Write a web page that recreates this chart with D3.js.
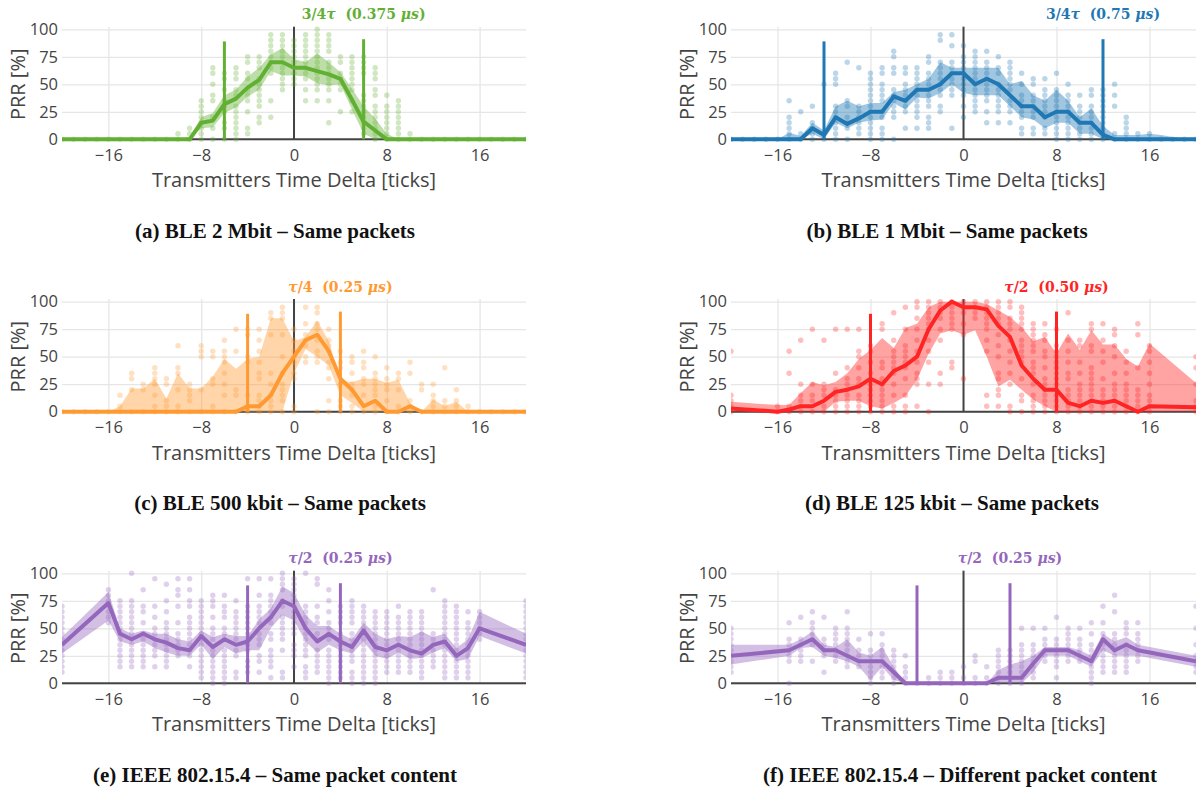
<!DOCTYPE html>
<html lang="en">
<head>
<meta charset="UTF-8">
<title>PRR vs transmitters time delta</title>
<script src="https://d3js.org/d3.v7.min.js"></script>
<style>
  body { margin: 0; background: #fff; }
  svg { display: block; }
  .tick text { font-family: "Open Sans", sans-serif; font-size: 16.5px; fill: #444; }
  .axis-title { font-family: "Open Sans", sans-serif; font-size: 20px; fill: #444; }
  .caption { font-family: "Liberation Serif", serif; font-weight: bold; font-size: 21px; fill: #111; }
  .note { font-family: "DejaVu Serif", serif; font-weight: bold; font-size: 14px; }
</style>
</head>
<body>
<script>
// ---- data ----
var xTicks = [-16, -8, 0, 8, 16];
var yTicks = [0, 25, 50, 75, 100];

var xsFull = [-20,-19,-18,-17,-16,-15,-14,-13,-12,-11,-10,-9,-8,-7,-6,-5,-4,-3,-2,-1,0,1,2,3,4,5,6,7,8,9,10,11,12,13,14,15,16,17,18,19,20];
var xsGap16 = [-20,-16,-15,-14,-13,-12,-11,-10,-9,-8,-7,-6,-5,-4,-3,-2,-1,0,1,2,3,4,5,6,7,8,9,10,11,12,13,14,15,16,20];
var xsGap15 = [-20,-15,-14,-13,-12,-11,-10,-9,-8,-7,-6,-5,-4,-3,-2,-1,0,1,2,3,4,5,6,7,8,9,10,11,12,13,14,15,20];

// (a) BLE 2 Mbit
var meanA = [0,0,0,0,0,0,0,0,0,0,0,0,15,17,32,37,47,54,70,70,65,65,62,59,55,36,16,8,0,0,0,0,0,0,0,0,0,0,0,0,0];
var hiA   = [0,0,0,0,0,0,0,0,0,0,0,2,20,24,40,45,57,65,77,83,73,70,78,70,61,46,30,19,5,0,0,0,0,0,0,0,0,0,0,0,0];
var loA   = [0,0,0,0,0,0,0,0,0,0,0,0,10,11,24,29,39,45,62,58,58,57,51,49,50,27,5,0,0,0,0,0,0,0,0,0,0,0,0,0,0];
var dotsA = [[-20,[0]],[-19,[0]],[-18,[0]],[-17,[0]],[-16,[0]],[-15,[0]],[-14,[0]],[-13,[0]],[-12,[0]],[-11,[0]],[-10,[0,5]],
  [-9,[0,5,10]],[-8,[0,5,10,15,20,25,30,35]],[-7,[0,10,20,35,40,50,60,65]],[-6,[0,10,15,25,30,35,45,55,60]],
  [-5,[0,5,10,15,20,25,30,40,45,55,60,65]],[-4,[5,10,25,35,40,45,55,60,70,75]],[-3,[15,20,30,35,40,45,50,55,65,70,75]],
  [-2,[20,35,60,65,70,75,80,85,90,95]],[-1,[45,50,55,60,65,70,75,80,85,90,95]],[0,[50,55,60,65,70,75,80,85,90]],
  [1,[35,45,55,60,65,70,75,80,85,90,95]],[2,[35,45,50,55,60,65,70,75,80,85,90,95,100]],[3,[15,35,45,50,55,60,65,70,80,85,90,95]],
  [4,[25,45,50,55,60,70,75]],[5,[25,35,45,50,55,60,65,70,75]],[6,[5,10,15,20,25,30,35,40,60,65,70,75]],
  [7,[0,5,10,15,20,25,30,40,45,55,60,65]],[8,[0,5,10,15,20,25,30,40]],[9,[0,5,10,15,20,25,30,35]],[10,[0,5]],
  [11,[0]],[12,[0]],[13,[0]],[14,[0]],[15,[0]],[16,[0]],[17,[0]],[18,[0]],[19,[0]],[20,[0]]];

// (b) BLE 1 Mbit
var meanB = [0,0,0,0,0,0,0,10,4,20,14,19,25,25,39,35,45,45,50,60,60,50,55,50,40,30,30,20,25,25,15,15,4,0,0,0,0,0,0,0,0];
var hiB   = [0,0,0,0,0,6,3,15,8,30,35,30,33,33,43,45,50,55,70,65,65,65,65,65,50,53,40,35,45,35,20,28,12,4,4,4,5,4,2,1,0];
var loB   = [0,0,0,0,0,0,0,5,0,15,10,15,17,18,33,27,38,37,42,50,42,40,40,40,30,20,18,10,15,15,5,5,0,0,0,0,0,0,0,0,0];
var dotsB = [[-20,[0]],[-19,[0]],[-18,[0]],[-17,[0]],[-16,[0]],[-15,[0,5,10,15,20,35]],[-14,[0,5,25]],[-13,[0,5,10,15,30]],
  [-12,[0,5,50]],[-11,[0,5,10,15,20,25,30,50,55,60]],[-10,[0,10,15,20,30,35,70]],[-9,[5,10,15,20,25,30,65]],
  [-8,[0,5,10,15,20,25,30,35,40,45,50,55,60]],[-7,[0,5,10,20,25,35,40,45,50,60,65]],[-6,[0,20,25,30,35,40,45,60,65,75,80]],
  [-5,[10,25,30,35,40,45,50,60,65]],[-4,[10,20,25,30,35,40,45,50,55,60,65]],[-3,[10,15,20,30,35,40,45,50,55,60,70,75]],
  [-2,[25,30,40,45,50,55,60,65,70,90,95]],[-1,[10,40,45,50,55,60,65,70,85,95]],[0,[20,30,40,45,50,55,60,65,70,75,85]],
  [1,[25,30,35,40,45,50,55,60,65,70,75,80]],[2,[15,25,35,40,45,50,55,60,65,70,80]],[3,[15,25,30,35,40,45,50,60,65,75]],
  [4,[15,25,30,35,45,50,55,60,65,70]],[5,[5,10,20,25,30,35,40,50,60]],[6,[5,10,20,25,30,35,40,50,55]],
  [7,[5,10,20,25,30,35,40,45,55]],[8,[0,5,10,15,20,25,30,35,40,45,60]],[9,[0,5,10,15,20,25,30,35,40,50]],
  [10,[0,5,10,15,20,25,30,40]],[11,[0,5,10,15,20,25,30,40,45]],[12,[0,5,10,15,20,25,30,35,40,45]],[13,[0,5,30,40,50]],
  [14,[0,5,10,15,20]],[15,[0,5]],[16,[0,5]],[17,[0]],[18,[0]],[19,[0]],[20,[0]]];

// (c) BLE 500 kbit
var meanC = [0,0,0,0,0,0,0,0,0,0,0,0,0,0,0,0,5,5,15,35,50,65,70,55,30,20,5,10,0,0,5,0,0,0,0,0,0,0,0,0,0];
var hiC   = [0,0,0,0,0,5,21,21,30,12,35,21,21,32,48,39,48,50,85,85,64,68,83,64,28,27,30,30,26,29,8,0,11,5,9,0,0,0,0,0,0];
var loC   = [0,0,0,0,0,0,0,0,0,0,0,0,0,0,0,0,0,0,0,0,35,57,50,42,15,8,0,0,0,0,0,0,0,0,0,0,0,0,0,0,0];
var dotsC = [[-20,[0]],[-19,[0]],[-18,[0]],[-17,[0]],[-16,[0]],[-15,[0,5,15]],[-14,[0,20,30,35]],[-13,[0,20,25]],
  [-12,[0,5,15,25,30,35,40]],[-11,[0,5,10,25,30]],[-10,[0,5,20,35,40,60]],[-9,[0,10,15,20,25]],[-8,[0,20,50,55,60]],
  [-7,[0,5,25,30,50,55]],[-6,[0,15,25,35,45,50,55,65]],[-5,[0,15,20,55,75]],[-4,[0,5,15,45,50,70,75]],
  [-3,[0,5,10,15,30,35,45,55,65,75]],[-2,[0,5,10,15,25,35,70,85,90]],[-1,[0,10,15,20,25,35,50,70,85,90,95]],
  [0,[0,5,30,35,45,50,55,65,75]],[1,[45,50,60,65,70,80,95]],[2,[0,45,50,55,65,75,80,90,95]],[3,[0,10,30,40,45,55,60,65,75]],
  [4,[0,5,10,25,40,45,55]],[5,[0,5,15,20,25,35,45,50]],[6,[0,15,25,30,40,45,55]],[7,[0,5,15,20,25,30,35,50]],
  [8,[0,10,20,25,30,40]],[9,[0,5,20,30,35]],[10,[0,5,10,35,45]],[11,[0,20,25]],[12,[0,5,10,15,25]],[13,[0,5,10,40]],
  [14,[0,5,10,20]],[15,[0,5]],[16,[0]],[17,[0]],[18,[0]],[19,[0]],[20,[0]]];

// (d) BLE 125 kbit
var meanD = [3,0,2,5,5,10,18,20,23,30,25,37,42,50,75,92,100,95,95,93,78,68,42,30,20,20,8,5,10,8,10,5,0,5,4];
var hiD   = [9,6,6,17,27,24,27,35,48,56,67,58,76,80,95,100,100,100,100,98,92,86,77,64,68,53,71,56,74,61,61,48,41,62,26];
var loD   = [0,0,0,0,0,0,9,10,10,5,3,8,14,29,53,71,74,70,74,50,23,29,20,11,5,0,0,0,0,0,0,0,0,0,0];
var dotsD = [[-20,[0,5,10,15,55]],[-16,[0,5]],[-15,[0,5,35,55]],[-14,[0,5,10,15,25,65]],[-13,[0,10,15,25,75]],
  [-12,[0,5,15,20,25,65]],[-11,[0,5,10,15,20,35,75]],[-10,[0,5,10,15,20,25,30,40,75]],[-9,[0,5,10,15,25,30,40,50,55,75]],
  [-8,[0,5,10,15,20,25,35,45,55,60]],[-7,[0,5,10,15,20,25,30,40,45,75,80]],[-6,[0,5,15,25,35,40,45,50,55,65,90]],
  [-5,[0,5,15,30,40,45,50,55,60,75,95]],[-4,[5,25,30,35,45,55,65,75,85,95,100]],[-3,[0,25,45,55,65,75,80,85,90,95,100]],
  [-2,[25,35,65,75,85,90,95,100]],[-1,[40,45,75,80,85,90,95,100]],[0,[30,70,80,90,95,100]],[1,[85,90,95,100]],
  [2,[5,15,55,65,75,80,85,90,95,100]],[3,[5,15,20,30,35,50,60,70,80,85,90,95,100]],[4,[0,5,25,35,45,55,65,75,80,85,95,100]],
  [5,[0,10,15,30,45,50,55,60,65,75,80,85,90,95]],[6,[0,5,10,15,25,35,40,45,55,60,65,70,75,80]],
  [7,[0,5,10,15,20,25,30,40,50,55,65,70,80]],[8,[0,5,10,15,20,25,30,35,40,45,50,55,60,75]],
  [9,[0,5,10,15,20,30,35,45,55,65,90]],[10,[0,5,10,15,20,25,35,45,60,65]],[11,[0,5,10,15,20,25,30,35,40,55,60,75,80]],
  [12,[0,5,10,15,20,30,45,55,65,80]],[13,[0,5,10,15,20,25,35,50,60,70,75]],[14,[0,5,10,15,20,25,35,45,55]],
  [15,[0,5,10,15,20,40,70,80]],[16,[0,5,10,15,25,35,45,55,60]],[20,[0,5,10,25,40,50]]];

// (e) IEEE 802.15.4 - same content
var meanE = [35,73,45,40,45,40,37,32,30,43,33,40,35,38,50,60,75,70,50,38,45,38,33,48,33,30,35,30,27,35,38,25,32,50,35];
var hiE   = [42,83,50,45,48,45,45,40,38,48,42,45,43,43,58,68,88,82,62,52,52,45,40,55,45,40,43,42,47,42,45,32,40,65,45];
var loE   = [27,57,38,35,38,32,28,25,25,35,22,33,27,30,30,50,62,57,38,28,35,30,27,38,25,22,28,22,23,28,32,20,22,43,27];
var dotsE = [[-20,[10,15,20,25,30,35,40,45,50,55,60,65,70]],[-16,[55,60,65,70,75,80,85]],
  [-15,[15,20,25,30,35,40,45,50,55,60,65,70,75]],[-14,[15,20,25,30,35,40,45,50,55,60,65,70,75,100]],
  [-13,[15,20,25,30,35,40,45,55,65,70,85]],[-12,[15,25,30,35,40,45,50,60,70,95]],
  [-11,[15,20,25,30,35,40,45,50,55,65,75,90]],[-10,[25,30,35,40,45,55,70,80,85,95]],
  [-9,[15,25,30,35,40,45,50,55,60,70,75,85,95]],[-8,[5,10,15,20,25,30,35,40,45,50,55,60,65,70,75]],
  [-7,[0,5,10,15,20,25,30,40,45,50,60,70,75,80]],[-6,[0,5,10,15,20,25,30,40,45,50,60,65,70,80]],
  [-5,[5,10,25,30,40,45,50,55,60,65,75]],[-4,[10,15,20,30,35,40,45,50,55,60,65,70,95]],
  [-3,[10,20,25,35,40,45,55,60,65,70,80,95]],[-2,[5,15,20,25,30,40,45,55,60,65,70,75,80,95]],
  [-1,[5,10,30,40,45,50,55,60,70,75,85,90,95,100]],[0,[15,25,30,35,45,50,55,60,65,70,75,80,85,90,95]],
  [1,[5,10,15,25,30,35,40,45,50,55,60,65,70,100]],[2,[10,15,20,25,30,40,45,55,60,70,90,95]],
  [3,[0,5,10,15,20,25,30,40,45,50,55,65,75,85]],[4,[5,10,15,20,25,30,35,40,45,55,60,65,70]],
  [5,[0,5,10,20,25,30,35,40,45,55,60,65,70,75]],[6,[0,5,10,15,20,25,30,35,40,45,50,55,60,65,70]],
  [7,[0,5,10,15,20,25,30,35,40,45,50,55,60,65]],[8,[10,15,20,25,30,35,40,45,50,55,60,65]],
  [9,[10,15,20,25,30,35,40,45,50,55,60,70]],[10,[10,15,20,25,30,35,40,45,50,55,60,65]],
  [11,[5,10,15,20,25,30,35,40,45,50,55,60,65]],[12,[15,20,25,30,35,40,45,85]],
  [13,[5,10,15,20,25,30,35,40,45,50,55,60,65,70,75]],[14,[5,10,15,20,25,30,35,40,45,50,55,60,65,70]],
  [15,[5,10,15,20,25,30,35,40,45,50,55,65]],[16,[40,45,50,55,60,65]],
  [20,[5,10,15,20,25,30,35,40,45,50,55,60,65,70,75]]];

// (f) IEEE 802.15.4 - different content
var meanF = [25,30,35,40,30,30,25,20,20,20,10,0,0,0,0,0,0,0,0,5,5,5,18,30,30,30,25,20,40,30,35,30,20];
var hiF   = [35,35,40,47,35,33,40,28,25,33,15,0,0,0,0,0,0,0,0,12,17,20,25,33,33,33,30,25,45,38,42,35,25];
var loF   = [17,25,32,33,25,23,20,15,3,15,3,0,0,0,0,0,0,0,0,0,0,0,10,25,25,25,20,15,30,25,25,25,15];
var dotsF = [[-20,[10,15,20,25,30,35,40,45,50]],[-15,[0,20,25,30,35,40,55]],[-14,[20,25,30,35,40,60]],
  [-13,[20,35,40,45,50,55,65]],[-12,[10,25,30,35,40,60]],[-11,[20,25,30,35,40,45,50]],
  [-10,[15,20,25,30,35,40,45,50,65]],[-9,[15,20,25,30,40]],[-8,[0,5,10,15,20,25,30,45]],
  [-7,[5,10,15,20,25,30,35,45]],[-6,[0,5,10,15,20,25,30]],[-5,[0,5,10,15,25]],[-4,[0]],[-3,[0,5]],
  [-2,[0,5,10]],[-1,[0,5,10]],[0,[0,5,15]],[1,[0,5,20,25]],[2,[0,5,15]],[3,[0,5,10,15,20,25,30]],
  [4,[0,5,10,15,20,25,30]],[5,[0,5,10,15,20,25,30,35,50]],[6,[5,10,15,20,25,30,35,50]],
  [7,[20,25,30,35,40,50]],[8,[5,15,20,25,30,35,40,60]],[9,[20,25,30,35,40,45,50]],[10,[20,25,30,35,40,50]],
  [11,[0,5,10,15,20,25,30,35,45,55]],[12,[10,15,20,25,30,35,40,45,55,70]],[13,[10,15,20,25,30,35,40,45,65,80]],
  [14,[10,15,20,25,30,35,45,50,55]],[15,[20,25,30,35,40,45,55]],[20,[10,15,20,25,35,50,70]]];

// ---- panels ----
var W = 1198, H = 789;
var cols = [[62, 526], [731, 1196]];
var rowBottoms = [139.3, 411.7, 683.3];

var panels = [
  {xs: xsFull,  mean: meanA, lo: loA, hi: hiA, dots: dotsA, col: 0, row: 0, color: "#62b033", mark: 6,
   note: ["3/4", "τ", "  (0.375 ", "μs", ")"], caption: "(a) BLE 2 Mbit – Same packets", capX: 275},
  {xs: xsFull,  mean: meanB, lo: loB, hi: hiB, dots: dotsB, col: 1, row: 0, color: "#1f77b4", mark: 12,
   note: ["3/4", "τ", "  (0.75 ", "μs", ")"], caption: "(b) BLE 1 Mbit – Same packets", capX: 947},
  {xs: xsFull,  mean: meanC, lo: loC, hi: hiC, dots: dotsC, col: 0, row: 1, color: "#ff9a33", mark: 4,
   note: ["", "τ", "/4  (0.25 ", "μs", ")"], caption: "(c) BLE 500 kbit – Same packets", capX: 280},
  {xs: xsGap16, mean: meanD, lo: loD, hi: hiD, dots: dotsD, col: 1, row: 1, color: "#ff2424", mark: 8,
   note: ["", "τ", "/2  (0.50 ", "μs", ")"], caption: "(d) BLE 125 kbit – Same packets", capX: 952},
  {xs: xsGap16, mean: meanE, lo: loE, hi: hiE, dots: dotsE, col: 0, row: 2, color: "#9467bd", mark: 4,
   note: ["", "τ", "/2  (0.25 ", "μs", ")"], caption: "(e) IEEE 802.15.4 – Same packet content", capX: 275},
  {xs: xsGap15, mean: meanF, lo: loF, hi: hiF, dots: dotsF, col: 1, row: 2, color: "#9467bd", mark: 4,
   note: ["", "τ", "/2  (0.25 ", "μs", ")"], caption: "(f) IEEE 802.15.4 – Different packet content", capX: 960}
];

var svg = d3.select("body").append("svg")
  .attr("width", W)
  .attr("height", H);

function minus(d) { return d < 0 ? "\u2212" + Math.abs(d) : String(d); }

panels.forEach(function(p, i) {
  var left = cols[p.col][0], right = cols[p.col][1];
  var bottom = rowBottoms[p.row];
  var x = d3.scaleLinear().domain([-20, 20]).range([left, right]);
  var y = d3.scaleLinear().domain([0, 100]).range([bottom, bottom - 110]);
  var top = y(102.4);

  var g = svg.append("g");

  g.append("clipPath").attr("id", "clip" + i)
    .append("rect")
    .attr("x", left).attr("y", top - 10)
    .attr("width", right - left).attr("height", bottom - top + 20);

  // axes + grid
  var xAxis = g.append("g")
    .attr("transform", "translate(0," + bottom + ")")
    .call(d3.axisBottom(x).tickValues(xTicks).tickFormat(minus)
      .tickSize(-(bottom - top)).tickPadding(10));
  var yAxis = g.append("g")
    .attr("transform", "translate(" + left + ",0)")
    .call(d3.axisLeft(y).tickValues(yTicks)
      .tickSize(-(right - left)).tickPadding(4));
  [xAxis, yAxis].forEach(function(a) {
    a.select(".domain").remove();
    a.selectAll(".tick line")
      .attr("stroke", "#e6e6e6")
      .attr("stroke-width", 1.3);
  });

  // zero lines on top of the grid
  g.append("line")
    .attr("x1", x(0)).attr("x2", x(0))
    .attr("y1", y(0)).attr("y2", top)
    .attr("stroke", "#444").attr("stroke-width", 2);
  g.append("line")
    .attr("x1", left).attr("x2", right)
    .attr("y1", y(0)).attr("y2", y(0))
    .attr("stroke", "#444").attr("stroke-width", 2);

  var rows = p.xs.map(function(v, k) { return {x: v, m: p.mean[k], lo: p.lo[k], hi: p.hi[k]}; });
  var plot = g.append("g").attr("clip-path", "url(#clip" + i + ")");

  plot.append("path")
    .datum(rows)
    .attr("fill", p.color)
    .attr("fill-opacity", 0.42)
    .attr("d", d3.area()
      .x(function(d) { return x(d.x); })
      .y0(function(d) { return y(d.lo); })
      .y1(function(d) { return y(d.hi); }));

  var pts = [];
  p.dots.forEach(function(c) { c[1].forEach(function(v) { pts.push([c[0], v]); }); });
  plot.selectAll("circle")
    .data(pts)
    .enter()
    .append("circle")
    .attr("cx", function(d) { return x(d[0]); })
    .attr("cy", function(d) { return y(d[1]); })
    .attr("r", 2.7)
    .attr("fill", p.color)
    .attr("fill-opacity", 0.3);

  plot.append("path")
    .datum(rows)
    .attr("fill", "none")
    .attr("stroke", p.color)
    .attr("stroke-width", 4)
    .attr("stroke-linejoin", "round")
    .attr("d", d3.line()
      .x(function(d) { return x(d.x); })
      .y(function(d) { return y(d.m); }));

  // +/- marker lines
  [[-p.mark, 89], [p.mark, 91]].forEach(function(m) {
    g.append("line")
      .attr("x1", x(m[0])).attr("x2", x(m[0]))
      .attr("y1", y(0)).attr("y2", y(m[1]))
      .attr("stroke", p.color)
      .attr("stroke-width", 3);
  });

  var note = g.append("text")
    .attr("class", "note")
    .attr("x", x(p.mark))
    .attr("y", y(100) - 10)
    .attr("text-anchor", "middle")
    .attr("fill", p.color);
  note.append("tspan").text(p.note[0]);
  note.append("tspan").attr("font-style", "italic").text(p.note[1]);
  note.append("tspan").attr("xml:space", "preserve").text(p.note[2]);
  note.append("tspan").attr("font-style", "italic").text(p.note[3]);
  note.append("tspan").text(p.note[4]);

  g.append("text")
    .attr("class", "axis-title")
    .attr("x", x(0))
    .attr("y", bottom + 48)
    .attr("text-anchor", "middle")
    .text("Transmitters Time Delta [ticks]");

  g.append("text")
    .attr("class", "axis-title")
    .attr("transform", "translate(" + (left - 37) + "," + ((y(0) + y(100)) / 2) + ") rotate(-90)")
    .attr("text-anchor", "middle")
    .text("PRR [%]");

  g.append("text")
    .attr("class", "caption")
    .attr("x", p.capX)
    .attr("y", bottom + 98.5)
    .attr("text-anchor", "middle")
    .text(p.caption);
});
</script>
</body>
</html>
